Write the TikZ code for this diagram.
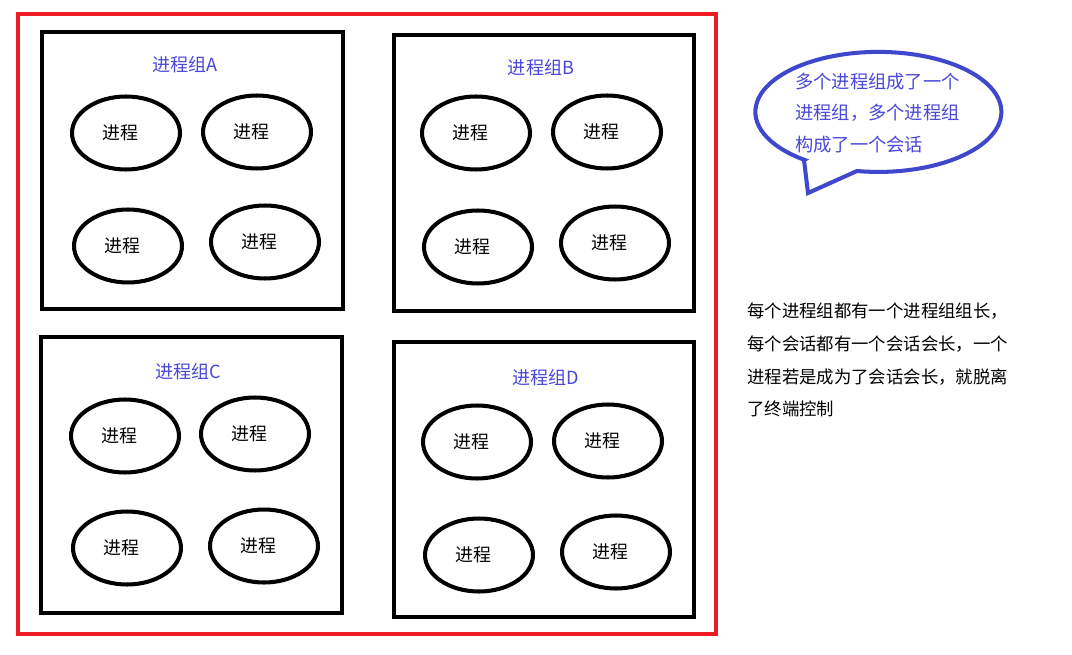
\documentclass[tikz,border=0pt]{standalone}
\usepackage{fontspec}
\newfontfamily\cjk{Noto Sans CJK SC}
\usetikzlibrary{shapes.geometric}
\definecolor{sessionred}{RGB}{237,28,36}
\definecolor{bubbleblue}{RGB}{63,72,204}
\definecolor{labelblue}{RGB}{72,72,220}
\tikzset{
  proc/.style={draw,ellipse,line width=2.3pt,minimum width=2.16cm,minimum height=1.46cm,
    inner sep=0pt,font=\cjk\fontsize{10.2}{12}\selectfont,
    execute at begin node={\hspace*{-0.24cm}}},
  groupbox/.style={line width=2.3pt},
  grouplabel/.style={text=labelblue,font=\cjk\fontsize{10.3}{12}\selectfont},
}
\begin{document}
\begin{tikzpicture}[x=0.02cm,y=-0.02cm]
\useasboundingbox[fill=white] (0,0) rectangle (1072,655);
% session
\draw[line width=2.3pt,color=sessionred] (18,14) rectangle (716,634);
% process groups
\foreach \g/\xa/\ya/\xb/\yb in {A/42/32/343/309,B/394/35/694/311,C/41/337/342/613,D/394/342/694/617}
\draw[groupbox] (\xa,\ya) rectangle (\xb,\yb);
\foreach \g/\x/\y in {A/185/65,B/541/68,C/188/372,D/546/378}
\node[grouplabel] (label\g) at (\x,\y) {进程组\g};
% processes
\foreach \n/\x/\y in {a1/126/133,a2/257/132,a3/128/246,a4/265/242,
  b1/476/133,b2/607/132,b3/478/247,b4/615/243,
  c1/125/436,c2/255/434,c3/127/548,c4/264/546,
  d1/477/442,d2/608/441,d3/479/555,d4/616/552}
\node[proc] (\n) at (\x,\y) {进程};
% speech bubble
\draw[line width=2.3pt,color=bubbleblue] (804,160) -- (808,193) -- (857,171)
  arc[start angle=100,end angle=-233,x radius=123,y radius=60] -- cycle;
\node[anchor=west,align=left,text=labelblue,font=\cjk\fontsize{10.4}{17.9}\selectfont]
  (bubbletext) at (789,113) {多个进程组成了一个\\进程组，多个进程组\\构成了一个会话};
% note
\node[anchor=west,align=left,font=\cjk\fontsize{9.9}{18.7}\selectfont]
  (note) at (741,360) {每个进程组都有一个进程组组长，\\每个会话都有一个会话会长，一个\\进程若是成为了会话会长，就脱离\\了终端控制};
\end{tikzpicture}
\end{document}
